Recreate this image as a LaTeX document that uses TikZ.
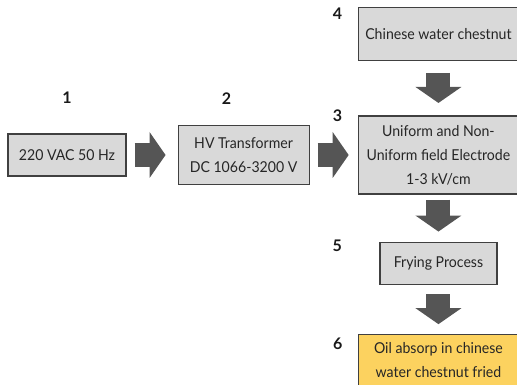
\documentclass[tikz,border=0pt]{standalone}
\usepackage{fontspec}
\setmainfont{Lato}
\newfontfamily\boxfont[FakeStretch=0.94]{Lato}
\usetikzlibrary{positioning,arrows.meta}
\definecolor{boxgray}{RGB}{217,217,217}
\definecolor{flowgray}{RGB}{85,85,85}
\definecolor{oilyellow}{RGB}{252,210,95}
\tikzstyle{box}=[draw=black!75,line width=1.1pt,fill=boxgray,align=center,
  inner sep=2pt,text=black!85,font=\boxfont\fontsize{15}{24}\selectfont]
\tikzstyle{num}=[text=black!90,font=\bfseries\fontsize{16}{18}\selectfont]
\tikzstyle{flow}=[color=flowgray,line width=24pt,
  -{Triangle[length=16pt,width=46pt,line width=0pt]}]
\newcommand{\newBox}[4]{\node[box,#3](#1)[#4]{#2};}
\newcommand{\newNum}[3]{\node[num](#1)[#3]{#2};}
\newcommand{\newFlow}[4]{\path[flow] (#1) edge[shorten <=#3,shorten >=#4] (#2);}

\begin{document}
\begin{tikzpicture}
      \useasboundingbox (-67pt,155pt) rectangle (450pt,-230pt);
      % boxes
      \newBox{b1}{220 VAC 50 Hz}{minimum width=118pt,minimum height=42pt}{}
      \newBox{b2}{HV Transformer\\DC 1066-3200 V}{minimum width=131pt,minimum height=59pt}{right=51pt of b1}
      \newBox{b3}{Uniform and Non-\\Uniform field Electrode\\1-3 kV/cm}{minimum width=160.5pt,minimum height=78pt}{right=48pt of b2}
      \newBox{b4}{Chinese water chestnut}{minimum width=160.5pt,minimum height=53pt}{above=54pt of b3}
      \newBox{b5}{Frying Process}{minimum width=117pt,minimum height=42pt}{below=47pt of b3}
      \newBox{b6}{Oil absorp in chinese\\water chestnut fried}{fill=oilyellow,minimum width=160pt,minimum height=51pt}{below=49pt of b5}
      % step numbers
      \newNum{n1}{1}{above=26pt of b1}
      \newNum{n2}{2}{above=17pt of b2,xshift=-17pt}
      \newNum{n3}{3}{left=12pt of b3.north west}
      \newNum{n4}{4}{left=12pt of b4.north west,yshift=-6pt}
      \newNum{n5}{5}{left=34pt of b5.north west,yshift=-4.5pt}
      \newNum{n6}{6}{left=12pt of b6.north west,yshift=-10pt}
      % flow arrows
      \newFlow{b1}{b2}{8pt}{12pt}
      \newFlow{b2}{b3}{8pt}{9pt}
      \newFlow{b4}{b3}{11.5pt}{12.5pt}
      \newFlow{b3}{b5}{5pt}{10pt}
      \newFlow{b5}{b6}{9.5pt}{9.5pt}
\end{tikzpicture}
\end{document}
